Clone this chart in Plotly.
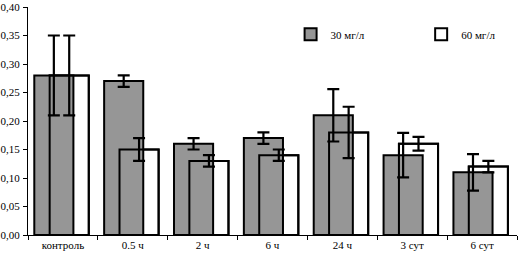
import plotly.graph_objects as go

categories = ["контроль", "0.5 ч", "2 ч", "6 ч", "24 ч", "3 сут", "6 сут"]
vals_30 = [0.28, 0.27, 0.16, 0.17, 0.21, 0.14, 0.11]
err_30 = [0.07, 0.01, 0.01, 0.01, 0.046, 0.039, 0.032]
vals_60 = [0.28, 0.15, 0.13, 0.14, 0.18, 0.16, 0.12]
err_60 = [0.07, 0.02, 0.01, 0.01, 0.045, 0.012, 0.01]
y_ticks = [0.0, 0.05, 0.10, 0.15, 0.20, 0.25, 0.30, 0.35, 0.40]

GRAY = "#969696"
W = 0.56
OFF30 = -0.41
OFF60 = -0.19
FONT = "Liberation Serif, Times New Roman, serif"

fig = go.Figure()
# white fill layer for 60 mg/l (behind)
fig.add_trace(go.Bar(x=categories, y=vals_60, name="60 мг/л", width=W, offset=OFF60,
                     marker=dict(color="white", line=dict(color="black", width=2)),
                     legend="legend2", showlegend=True))
# gray bars 30 mg/l
fig.add_trace(go.Bar(x=categories, y=vals_30, name="30 мг/л", width=W, offset=OFF30,
                     marker=dict(color=GRAY, line=dict(color="black", width=2)),
                     error_y=dict(type="data", array=err_30, color="black", thickness=2.2, width=6),
                     legend="legend", showlegend=True))
# outline of 60 mg/l on top
fig.add_trace(go.Bar(x=categories, y=vals_60, name="60 мг/л", width=W, offset=OFF60,
                     marker=dict(color="rgba(0,0,0,0)", line=dict(color="black", width=2)),
                     error_y=dict(type="data", array=err_60, color="black", thickness=2.2, width=6),
                     showlegend=False))

leg_common = dict(orientation="h", xanchor="left", yanchor="middle", itemwidth=30,
                  bgcolor="rgba(0,0,0,0)", font=dict(family=FONT, size=11),
                  itemclick=False, itemdoubleclick=False)

fig.update_layout(
    width=518, height=257,
    margin=dict(l=26, r=1, t=4, b=22),
    barmode="overlay",
    separators=", ",
    plot_bgcolor="white", paper_bgcolor="white",
    font=dict(family=FONT, size=11, color="black"),
    showlegend=True,
    legend=dict(x=0.537, y=0.88, **leg_common),
    legend2=dict(x=0.804, y=0.88, **leg_common),
    xaxis=dict(showline=True, linecolor="black", linewidth=1, ticks="outside",
               tickson="boundaries", ticklen=4, tickcolor="black", showgrid=False,
               tickfont=dict(family=FONT, size=11)),
    yaxis=dict(range=[0, 0.4], tickvals=y_ticks, tickformat=".2f", showline=True,
               linecolor="black", linewidth=1, ticks="outside", ticklen=4,
               tickcolor="black", showgrid=False, zeroline=False, ticklabelstandoff=1,
               ticklabeloverflow="allow", tickfont=dict(family=FONT, size=11)),
)
fig.write_html("out.html", config={"displayModeBar": False},
               post_script="document.body.style.margin='0';document.body.style.padding='0';")
